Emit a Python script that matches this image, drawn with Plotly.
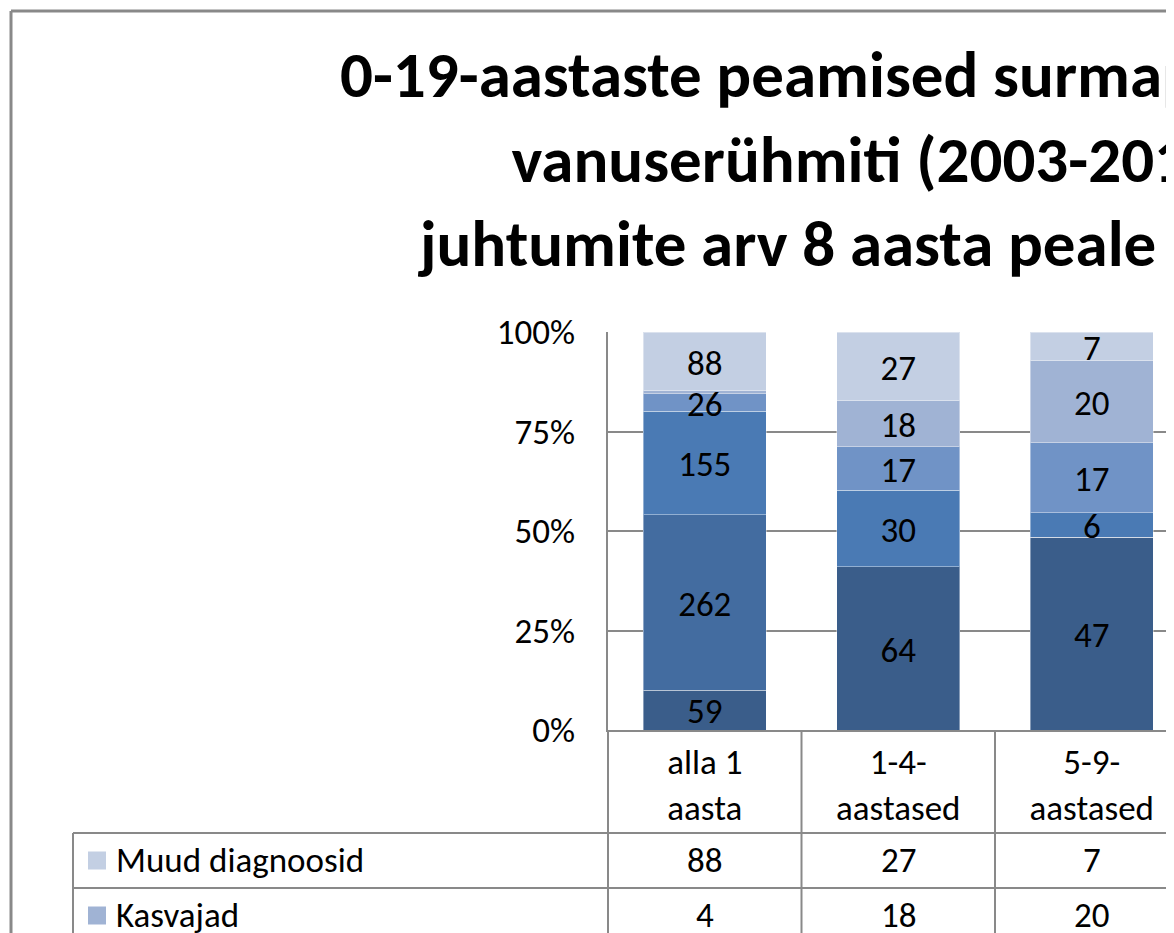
import plotly.graph_objects as go

# ---------------- data ----------------
categories = ["alla 1<br>aasta", "1-4-<br>aastased", "5-9-<br>aastased"]
series_names = [
    "Välispõhjused",
    "Perinataalperioodi seisundid",
    "Kaasasündinud väärarendid",
    "Närvisüsteemi haigused",
    "Kasvajad",
    "Muud diagnoosid",
]
valispohjused = [59, 64, 47]
perinataal = [262, 0, 0]
vaararendid = [155, 30, 6]
narvisusteem = [26, 17, 17]
kasvajad = [4, 18, 20]
muud = [88, 27, 7]
series_values = [valispohjused, perinataal, vaararendid, narvisusteem, kasvajad, muud]
colors = ["#3a5d8a", "#436ca0", "#4a7ab4", "#7093c6", "#a0b3d4", "#c3cfe3"]
y_ticks = [0, 25, 50, 75, 100]
y_ticktext = [f"{v}%" for v in y_ticks]
title_text = ("<b>0-19-aastaste peamised surmapõhjused<br>"
              "vanuserühmiti (2003-2010)<br>"
              "juhtumite arv 8 aasta peale kokku</b>")

FONT = "Carlito, Calibri, Lato, sans-serif"
GRID = "#898989"
FS = 35

# ---------------- layout geometry ----------------
# the page body has an 8px margin, so figure pixels = screen pixels - 8
OFF = 8
W, H = 1174 - OFF, 933 - OFF
L, R, T, B = 608 - OFF, 1167 - OFF, 332 - OFF, 730 - OFF
PW, PH = R - L, B - T
CAT_W = 193.5
LABEL_NUDGE = 4.5 / PH * 100   # small downward nudge of segment labels (style)


def px(p):
    """screen x pixel -> paper"""
    return (p - OFF - L) / PW


def py(p):
    """screen y pixel -> paper"""
    return (B - (p - OFF)) / PH


fig = go.Figure()

totals = [sum(s[i] for s in series_values) for i in range(len(categories))]

for name, vals, col in zip(series_names, series_values, colors):
    fig.add_trace(go.Bar(
        x=categories, y=vals, name=name,
        marker=dict(color=col, line=dict(color="rgba(255,255,255,0.4)", width=1)),
        showlegend=False, hoverinfo="name+y",
    ))

# segment labels placed at segment mid-points (from data)
cum = [0] * len(categories)
for name, vals in zip(series_names, series_values):
    xs, ys, ts = [], [], []
    for i, v in enumerate(vals):
        share = v / totals[i] * 100
        if share >= 1.0:
            xs.append(categories[i])
            ys.append((cum[i] + v / 2) / totals[i] * 100 - LABEL_NUDGE)
            ts.append(str(v))
        cum[i] += v
    fig.add_trace(go.Scatter(
        x=xs, y=ys, text=ts, mode="text",
        textfont=dict(size=FS, color="black", family=FONT),
        showlegend=False, hoverinfo="skip", cliponaxis=False,
    ))

shapes = []
annotations = []

# outer chart border
shapes.append(dict(type="line", xref="paper", yref="paper",
                   x0=px(11), x1=px(11), y0=py(11), y1=py(960),
                   line=dict(color=GRID, width=3)))
shapes.append(dict(type="line", xref="paper", yref="paper",
                   x0=px(11), x1=px(1200), y0=py(11), y1=py(11),
                   line=dict(color=GRID, width=3)))

# data table: vertical lines at category boundaries
for k in range(len(categories) + 1):
    xb = 608 + k * CAT_W
    shapes.append(dict(type="line", xref="paper", yref="paper",
                       x0=px(xb), x1=px(xb), y0=py(730), y1=py(960),
                       line=dict(color=GRID, width=2)))

ROW_TOP = 833
ROW_H = 55
TABLE_L = 73
shapes.append(dict(type="line", xref="paper", yref="paper",
                   x0=px(TABLE_L), x1=px(TABLE_L), y0=py(ROW_TOP), y1=py(960),
                   line=dict(color=GRID, width=2)))

rows = list(zip(series_names, series_values, colors))[::-1]
for r, (name, vals, col) in enumerate(rows):
    top = ROW_TOP + r * ROW_H
    if top > 933:
        break
    mid = top + ROW_H / 2 - 1
    shapes.append(dict(type="line", xref="paper", yref="paper",
                       x0=px(TABLE_L), x1=px(1200), y0=py(top), y1=py(top),
                       line=dict(color=GRID, width=2)))
    shapes.append(dict(type="rect", xref="paper", yref="paper",
                       x0=px(88), x1=px(106), y0=py(mid - 8), y1=py(mid + 10),
                       fillcolor=col, line=dict(width=0)))
    annotations.append(dict(text=name, xref="paper", yref="paper",
                            x=px(114), y=py(mid), xanchor="left", yanchor="middle",
                            showarrow=False, font=dict(size=FS, color="black", family=FONT)))
    for i, v in enumerate(vals):
        annotations.append(dict(text=str(v), xref="x", yref="paper",
                                x=categories[i], y=py(mid), xanchor="center", yanchor="middle",
                                showarrow=False, font=dict(size=FS, color="black", family=FONT)))

# title (centred on the full chart width, which extends past the visible area)
annotations.append(dict(text=title_text, xref="paper", yref="paper",
                        x=px(876), y=py(33), xanchor="center", yanchor="top",
                        showarrow=False, align="center",
                        font=dict(size=65, color="black", family=FONT)))

fig.update_layout(
    width=W, height=H,
    margin=dict(l=L, r=W - R, t=T, b=H - B, pad=0),
    paper_bgcolor="white", plot_bgcolor="white",
    barmode="stack", barnorm="percent", bargap=1 - 123 / CAT_W,
    font=dict(family=FONT, size=FS, color="black"),
    shapes=shapes, annotations=annotations,
    showlegend=False,
)
fig.update_xaxes(
    type="category", categoryorder="array", categoryarray=categories,
    range=[-0.5, -0.5 + PW / CAT_W],
    showline=True, linecolor=GRID, linewidth=2,
    showgrid=False, ticks="", ticklabelstandoff=0,
    tickfont=dict(size=FS, color="black", family=FONT),
)
fig.update_yaxes(
    range=[0, 100], tickvals=y_ticks, ticktext=y_ticktext,
    showline=True, linecolor=GRID, linewidth=2,
    showgrid=True, gridcolor=GRID, gridwidth=2, zeroline=False,
    ticks="", ticklabelstandoff=24,
    tickfont=dict(size=FS, color="black", family=FONT),
)

fig.write_html("out.html")
